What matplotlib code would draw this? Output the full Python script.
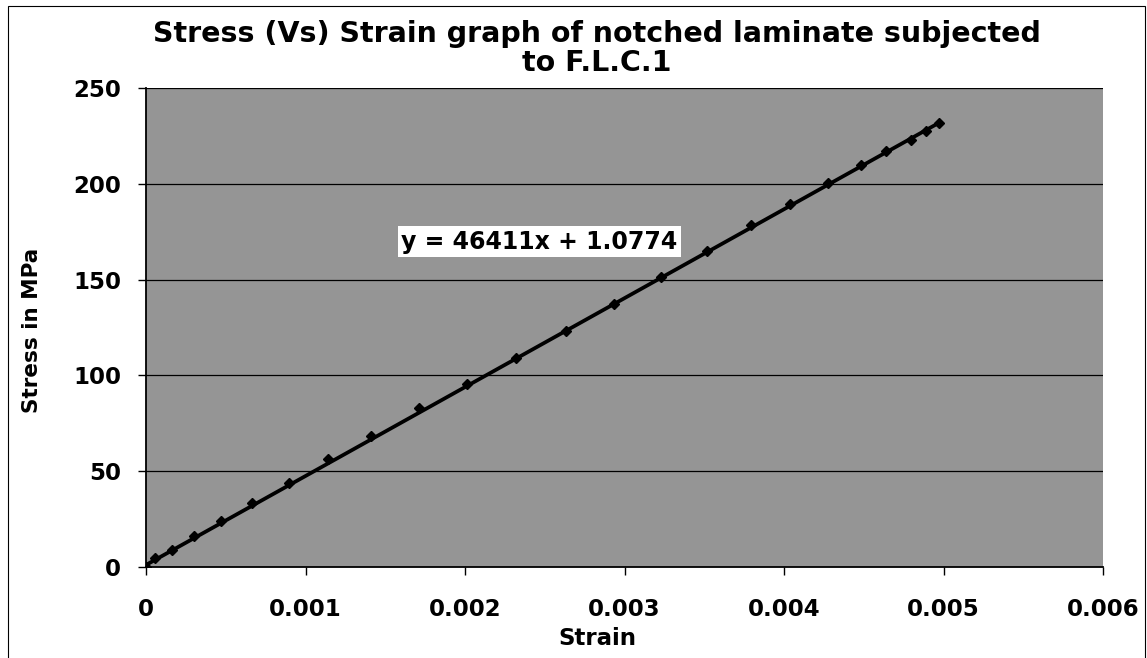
import matplotlib
matplotlib.use("Agg")
import matplotlib.pyplot as plt
from matplotlib.patches import Rectangle
import numpy as np

# Data
strain = [0, 0.0000564, 0.000165, 0.000301, 0.000468, 0.000666, 0.000897,
          0.001141, 0.001413, 0.001712, 0.002014, 0.002322, 0.002631,
          0.002934, 0.003231, 0.003519, 0.003791, 0.004036, 0.004276,
          0.004481, 0.004641, 0.004794, 0.004892, 0.004972]
stress = [0, 4.7, 9.0, 16.3, 23.8, 33.2, 44.1, 56.3, 68.4, 83.2, 95.3,
          109.2, 123.4, 137.5, 151.4, 164.7, 178.3, 189.6, 200.5, 209.8,
          217.2, 222.8, 227.6, 231.5]
slope = 46411
intercept = 1.0774
x_ticks = [0, 0.001, 0.002, 0.003, 0.004, 0.005, 0.006]
x_tick_labels = ["0", "0.001", "0.002", "0.003", "0.004", "0.005", "0.006"]
y_ticks = [0, 50, 100, 150, 200, 250]
title_text = "Stress (Vs) Strain graph of notched laminate subjected\nto F.L.C.1"
eq_text = "y = 46411x + 1.0774"

plt.rcParams['font.family'] = ['DejaVu Sans']
plt.rcParams['font.weight'] = 'bold'

W, H = 1147, 658
fig = plt.figure(figsize=(W / 100, H / 100), dpi=100)
fig.patch.set_facecolor('white')

L, R, T, B = 146, 1103, 88, 567
ax = fig.add_axes([L / W, 1 - B / H, (R - L) / W, (B - T) / H])
ax.set_facecolor('#959595')

ax.set_xlim(0, 0.006)
ax.set_ylim(0, 250)

# gridlines
for yv in y_ticks[1:]:
    ax.axhline(yv, color='black', lw=0.9, zorder=1)

# trendline
xs = np.array([min(strain), max(strain)])
ax.plot(xs, slope * xs + intercept, color='black', lw=2.7, zorder=3,
        solid_capstyle='butt')
# data points
ax.plot(strain, stress, linestyle='none', marker='D', markersize=5.5,
        color='black', zorder=4)

ax.set_xticks(x_ticks)
ax.set_xticklabels(x_tick_labels)
ax.set_yticks(y_ticks)
ax.tick_params(axis='both', direction='out', length=6, width=1,
               colors='black', labelsize=16.5)
ax.tick_params(axis='x', pad=16)
ax.tick_params(axis='y', pad=12)
for lab in ax.get_xticklabels() + ax.get_yticklabels():
    lab.set_fontweight('bold')

for s in ['top', 'right']:
    ax.spines[s].set_visible(False)
for s in ['left', 'bottom']:
    ax.spines[s].set_linewidth(1.3)
    ax.spines[s].set_color('black')

ax.set_xlabel("Strain", fontsize=16.5, fontweight='bold')
ax.xaxis.set_label_coords((597 - L) / (R - L), (B - 627) / (B - T))
ax.set_ylabel("Stress in MPa", fontsize=15.5, fontweight='bold')
ax.yaxis.set_label_coords((42 - L) / (R - L), (B - 330) / (B - T))

ax.text(0.0016, 166, eq_text, fontsize=17, fontweight='bold',
        va='baseline', ha='left', zorder=5,
        bbox=dict(boxstyle='square,pad=0.15', facecolor='white',
                  edgecolor='none'))

fig.text(597 / W, 1 - 20 / H, title_text, ha='center', va='top',
         fontsize=20.5, fontweight='bold', linespacing=1.05)

# outer chart border
fig.patches.append(Rectangle((8 / W, -0.02), (1145 - 8) / W, 1.02 - 6 / H,
                             transform=fig.transFigure, fill=False,
                             edgecolor='black', lw=0.8))

fig.savefig("out.png", dpi=100, facecolor='white')
